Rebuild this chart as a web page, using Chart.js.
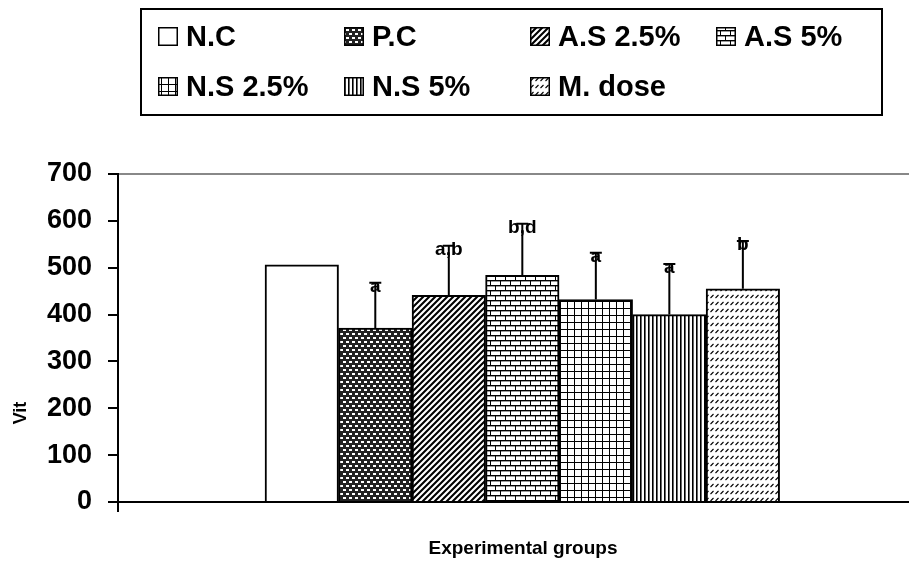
<!DOCTYPE html>
<html lang="en">
<head>
<meta charset="UTF-8">
<title>Vit by experimental group</title>
<script src="https://cdn.jsdelivr.net/npm/chart.js"></script>
<style>
    body {
        margin: 0;
        background: #ffffff;
    }
    #chart {
        display: block;
    }
</style>
</head>
<body>
<canvas id="chart" width="909" height="563"></canvas>
<script>
const groups = ["N.C", "P.C", "A.S 2.5%", "A.S 5%", "N.S 2.5%", "N.S 5%", "M. dose"];
const vitValues = [506, 371, 441, 484, 432, 400, 455];
// top of each error bar (mean + SD), N.C has none
const errorTops = [null, 468, 547, 594, 532, 508, 557];
const sigLabels = ["", "a", "a,b", "b,d", "a", "a", "b"];
const yTicks = [0, 100, 200, 300, 400, 500, 600, 700];

const FONT = '"Liberation Sans", Arial, sans-serif';

// black & white fill patterns like the old Excel ones
function makePattern(kind) {
    const tile = document.createElement("canvas");
    const t = tile.getContext("2d");
    if (kind === "mesh") {
        tile.width = 6; tile.height = 8;
        t.fillStyle = "#222"; t.fillRect(0, 0, 6, 8);
        t.fillStyle = "#fff";
        t.fillRect(1, 1, 3, 2);
        t.fillRect(4, 5, 2, 2);
        t.fillRect(0, 5, 1, 2);
    } else if (kind === "diagonal") {
        tile.width = 6; tile.height = 6;
        t.fillStyle = "#fff"; t.fillRect(0, 0, 6, 6);
        t.strokeStyle = "#000"; t.lineWidth = 2.1;
        t.beginPath();
        t.moveTo(-3, 9); t.lineTo(9, -3);
        t.moveTo(-3, 3); t.lineTo(3, -3);
        t.moveTo(3, 9); t.lineTo(9, 3);
        t.stroke();
    } else if (kind === "brick") {
        tile.width = 10; tile.height = 10;
        t.fillStyle = "#fff"; t.fillRect(0, 0, 10, 10);
        t.fillStyle = "#999";
        t.fillRect(0, 1, 10, 1);
        t.fillRect(0, 6, 10, 1);
        t.fillStyle = "#000";
        t.fillRect(0, 0, 10, 1);
        t.fillRect(0, 5, 10, 1);
        t.fillRect(0, 1, 1, 4);
        t.fillRect(5, 6, 1, 4);
    } else if (kind === "grid") {
        tile.width = 7; tile.height = 7;
        t.fillStyle = "#fff"; t.fillRect(0, 0, 7, 7);
        t.fillStyle = "#000";
        t.fillRect(0, 0, 7, 1);
        t.fillRect(0, 0, 1, 7);
    } else if (kind === "vertical") {
        tile.width = 4; tile.height = 1;
        t.fillStyle = "#fff"; t.fillRect(0, 0, 4, 1);
        t.fillStyle = "#000"; t.fillRect(0, 0, 1, 1);
        t.fillStyle = "#666"; t.fillRect(1, 0, 1, 1);
    } else if (kind === "dashes") {
        tile.width = 5; tile.height = 7;
        t.fillStyle = "#fff"; t.fillRect(0, 0, 5, 7);
        t.strokeStyle = "#000"; t.lineWidth = 1.1;
        t.beginPath();
        t.moveTo(0.5, 4); t.lineTo(3.5, 1);
        t.stroke();
    } else {
        return "#ffffff";
    }
    return t.createPattern(tile, "repeat");
}

const fillKinds = ["white", "mesh", "diagonal", "brick", "grid", "vertical", "dashes"];

// boxed legend, 4 columns x 2 rows
const boxLegend = {
    id: "boxLegend",
    afterDraw(chart) {
        const ctx = chart.ctx;
        const left = 141, top = 9, width = 741, height = 106;
        ctx.save();
        ctx.lineWidth = 2;
        ctx.strokeStyle = "#000";
        ctx.strokeRect(left, top, width, height);
        ctx.font = "bold 29px " + FONT;
        ctx.textBaseline = "alphabetic";
        chart.data.datasets.forEach((ds, i) => {
            const col = i % 4;
            const row = Math.floor(i / 4);
            const x = left + 17 + col * 186;
            const base = top + 37 + row * 50;
            ctx.fillStyle = ds.backgroundColor;
            ctx.fillRect(x, base - 19, 20, 19);
            ctx.lineWidth = 1.5;
            ctx.strokeStyle = "#000";
            ctx.strokeRect(x + 0.75, base - 18.25, 18.5, 17.5);
            ctx.fillStyle = "#000";
            ctx.fillText(ds.label, x + 28, base);
        });
        ctx.restore();
    }
};

// SD bars plus significance letters
const errorBars = {
    id: "errorBars",
    afterDatasetsDraw(chart) {
        const ctx = chart.ctx;
        const yScale = chart.scales.y;
        ctx.save();
        ctx.strokeStyle = "#000";
        ctx.fillStyle = "#000";
        ctx.lineWidth = 2;
        ctx.font = "bold 19px " + FONT;
        ctx.textAlign = "center";
        chart.data.datasets.forEach((ds, i) => {
            if (errorTops[i] == null) return;
            const bar = chart.getDatasetMeta(i).data[0];
            const top = yScale.getPixelForValue(errorTops[i]);
            ctx.beginPath();
            ctx.moveTo(bar.x, bar.y);
            ctx.lineTo(bar.x, top);
            ctx.moveTo(bar.x - 6, top);
            ctx.lineTo(bar.x + 6, top);
            ctx.stroke();
            ctx.fillText(sigLabels[i], bar.x, top + 9);
        });
        ctx.restore();
    }
};

// axis titles sit off-centre in the original, so they are placed by hand
const axisTitles = {
    id: "axisTitles",
    afterDraw(chart) {
        const ctx = chart.ctx;
        ctx.save();
        ctx.fillStyle = "#000";
        ctx.textAlign = "center";
        ctx.textBaseline = "middle";
        ctx.font = "bold 19px " + FONT;
        ctx.fillText("Experimental groups", 523, 549);
        ctx.translate(21, 413);
        ctx.rotate(-Math.PI / 2);
        ctx.font = "bold 18px " + FONT;
        ctx.fillText("Vit", 0, 0);
        ctx.restore();
    }
};

const datasets = groups.map((g, i) => ({
    label: g,
    data: [{ x: i, y: vitValues[i] }],
    backgroundColor: makePattern(fillKinds[i]),
    borderColor: "#000",
    borderWidth: 2,
    grouped: false,
    barPercentage: 1,
    categoryPercentage: 1
}));

new Chart(document.getElementById("chart"), {
    type: "bar",
    data: { datasets: datasets },
    plugins: [errorBars, boxLegend, axisTitles],
    options: {
        responsive: false,
        animation: false,
        events: [],
        layout: { padding: { top: 174, left: 0, right: 0, bottom: 0 } },
        plugins: {
            legend: { display: false },
            tooltip: { enabled: false }
        },
        scales: {
            x: {
                type: "linear",
                min: -2.5,
                max: 8.26,
                offset: false,
                ticks: { display: false },
                afterBuildTicks: (s) => { s.ticks = [{ value: s.min }]; },
                afterFit: (s) => { s.height = 61; },
                grid: {
                    offset: false,
                    drawOnChartArea: false,
                    drawTicks: true,
                    tickLength: 10,
                    color: "#000",
                    lineWidth: 2
                },
                border: { color: "#000", width: 2 }
            },
            y: {
                min: yTicks[0],
                max: yTicks[yTicks.length - 1],
                ticks: {
                    stepSize: yTicks[1] - yTicks[0],
                    color: "#000",
                    padding: 16,
                    font: { family: FONT, size: 27, weight: "bold" }
                },
                afterFit: (s) => { s.width = 118; },
                grid: {
                    color: (c) => (c.tick && c.tick.value === yTicks[yTicks.length - 1]) ? "#888" : "rgba(0,0,0,0)",
                    tickColor: "#000",
                    lineWidth: 2,
                    tickLength: 10
                },
                border: { color: "#000", width: 2 }
            }
        }
    }
});
</script>
</body>
</html>
